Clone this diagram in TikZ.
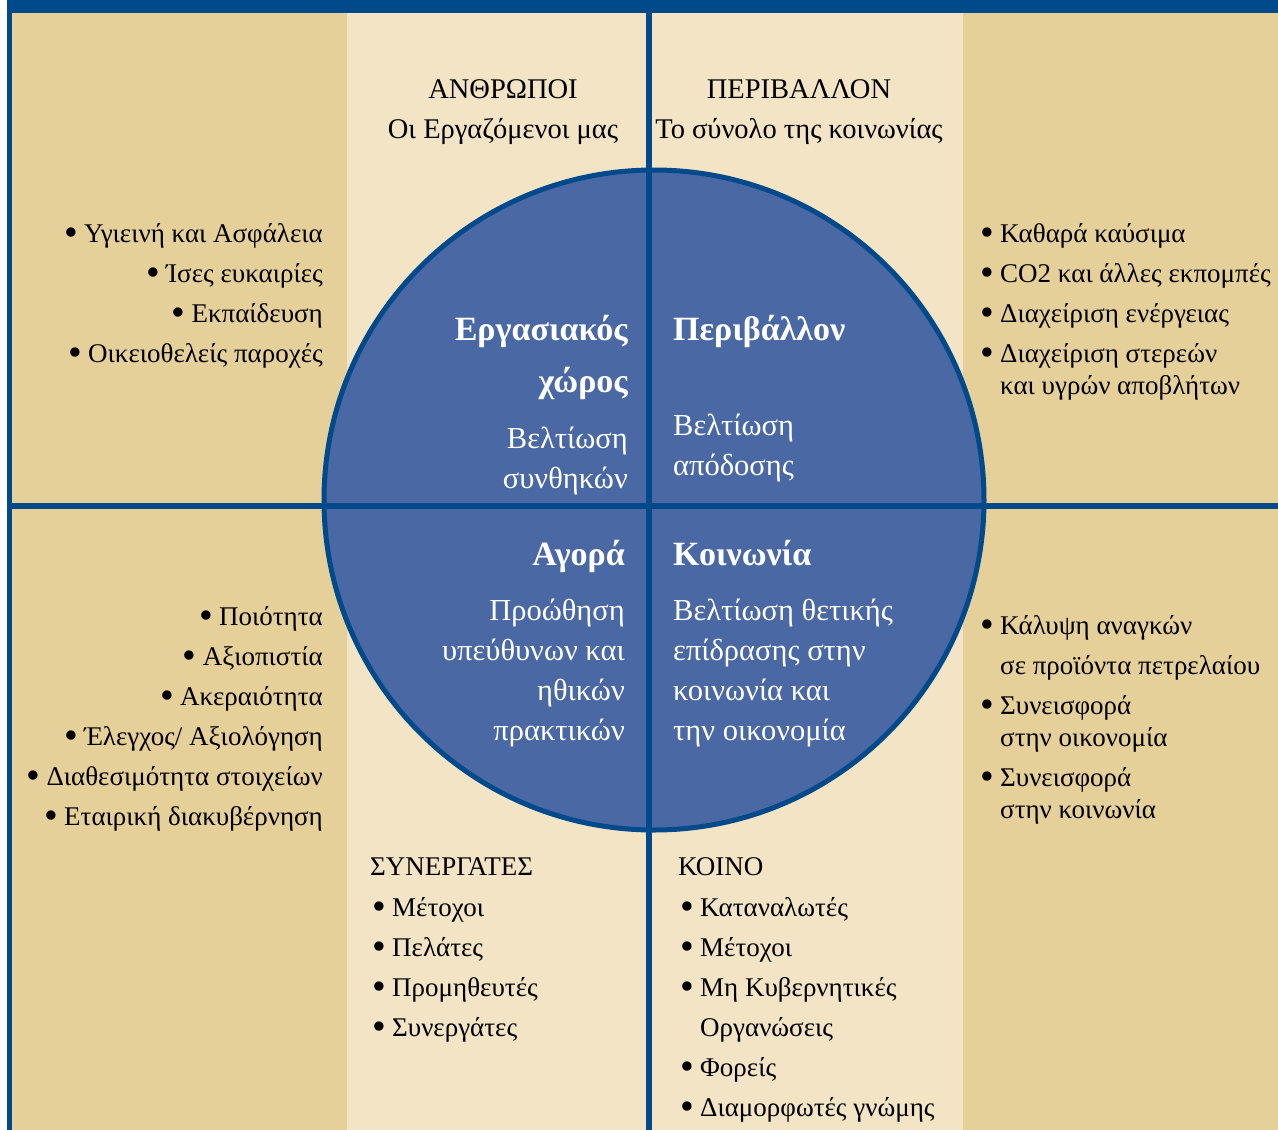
\documentclass[tikz,border=0pt]{standalone}
\usepackage{fontspec}
\usepackage{graphicx}
\setmainfont{Liberation Serif}
\definecolor{darkbeige}{HTML}{E6D09A}
\definecolor{lightbeige}{HTML}{F2E4C4}
\definecolor{frameblue}{HTML}{00498A}
\definecolor{circblue}{HTML}{4A68A3}
\newcommand{\bul}[1][20pt]{\makebox[#1][l]{\raisebox{-3pt}{\scalebox{1.45}{•}}}}
\begin{document}
\begin{tikzpicture}[x=1pt,y=-1pt]

    \tikzstyle{lst}=[inner sep=0pt, font=\fontsize{27}{32}\selectfont]
    \tikzstyle{head}=[inner sep=0pt, anchor=base, font=\fontsize{28.5}{32}\selectfont]
    \tikzstyle{ctitle}=[inner sep=0pt, text=white, font=\fontsize{34}{40}\selectfont\bfseries]
    \tikzstyle{ctext}=[inner sep=0pt, text=white, font=\fontsize{30.5}{32}\selectfont]
    \tikzstyle{sep}=[frameblue, line width=6pt]

    % background bands
    \useasboundingbox (0,0) rectangle (1278,1130);
    \fill[white] (0,0) rectangle (1278,1130);
    \fill[darkbeige] (12,13) rectangle (1278,1130);
    \fill[lightbeige] (347,13) rectangle (963,1130);
    \fill[frameblue] (7,0) rectangle (1278,13);
    \fill[frameblue] (7,0) rectangle (12,1130);

    % the wheel
    \node[circle, draw=frameblue, line width=5pt, fill=circblue, minimum size=660pt, inner sep=0pt] (wheel) at (654,500) {};

    % cross
    \coordinate (vtop) at (649,13);
    \coordinate (vbot) at (649,1130);
    \coordinate (hleft) at (12,506);
    \coordinate (hright) at (1278,506);
    \draw[sep] (vtop) -- (vbot);
    \draw[sep] (hleft) -- (hright);

    % headings
    \node[head] (anthr) at (503,98) {ΑΝΘΡΩΠΟΙ};
    \node[head] (anthrsub) at (503,138) {Οι Εργαζόμενοι μας};
    \node[head] (perib) at (799,98) {ΠΕΡΙΒΑΛΛΟΝ};
    \node[head] (peribsub) at (799,138) {Το σύνολο της κοινωνίας};

    % quarters of the wheel
    \node[ctitle, anchor=base east] (q1a) at (628,340) {Εργασιακός};
    \node[ctitle, anchor=base east] (q1b) at (628,392) {χώρος};
    \node[ctext, anchor=base east] (q1c) at (628,448) {Βελτίωση};
    \node[ctext, anchor=base east] (q1d) at (628,488) {συνθηκών};

    \node[ctitle, anchor=base west] (q2a) at (673,340) {Περιβάλλον};
    \node[ctext, anchor=base west] (q2b) at (673,435) {Βελτίωση};
    \node[ctext, anchor=base west] (q2c) at (673,475) {απόδοσης};

    \node[ctitle, anchor=base east] (q3a) at (625,565) {Αγορά};
    \foreach \t [count=\i] in {Προώθηση, υπεύθυνων και, ηθικών, πρακτικών} {
        \node[ctext, anchor=base east] (q3\i) at (625,580+40*\i) {\t};
    }

    \node[ctitle, anchor=base west] (q4a) at (673,565) {Κοινωνία};
    \foreach \t [count=\i] in {Βελτίωση θετικής, επίδρασης στην, κοινωνία και, την οικονομία} {
        \node[ctext, anchor=base west] (q4\i) at (673,580+40*\i) {\t};
    }

    % outer lists, left side
    \foreach \t [count=\i] in {Υγιεινή και Ασφάλεια, Ίσες ευκαιρίες, Εκπαίδευση, Οικειοθελείς παροχές} {
        \node[lst, anchor=base east] (ul\i) at (323,202+40*\i) {\bul\t};
    }
    \foreach \t [count=\i] in {Ποιότητα, Αξιοπιστία, Ακεραιότητα, {Έλεγχος/ Αξιολόγηση}, Διαθεσιμότητα στοιχείων, Εταιρική διακυβέρνηση} {
        \node[lst, anchor=base east] (ll\i) at (323,585+40*\i) {\bul\t};
    }

    % outer lists, right side
    \node[lst, anchor=base west] (ur1) at (980,242) {\bul Καθαρά καύσιμα};
    \node[lst, anchor=base west] (ur2) at (980,282) {\bul CO2 και άλλες εκπομπές};
    \node[lst, anchor=base west] (ur3) at (980,322) {\bul Διαχείριση ενέργειας};
    \node[lst, anchor=base west] (ur4) at (980,362) {\bul Διαχείριση στερεών};
    \node[lst, anchor=base west] (ur5) at (1000,394) {και υγρών αποβλήτων};

    \node[lst, anchor=base west] (lr1) at (980,634) {\bul Κάλυψη αναγκών};
    \node[lst, anchor=base west] (lr2) at (1000,674) {σε προϊόντα πετρελαίου};
    \node[lst, anchor=base west] (lr3) at (980,714) {\bul Συνεισφορά};
    \node[lst, anchor=base west] (lr4) at (1000,746) {στην οικονομία};
    \node[lst, anchor=base west] (lr5) at (980,786) {\bul Συνεισφορά};
    \node[lst, anchor=base west] (lr6) at (1000,818) {στην κοινωνία};

    % lower middle lists
    \node[lst, anchor=base west] (syn) at (370,875) {ΣΥΝΕΡΓΑΤΕΣ};
    \foreach \t [count=\i] in {Μέτοχοι, Πελάτες, Προμηθευτές, Συνεργάτες} {
        \node[lst, anchor=base west] (syn\i) at (372,876+40*\i) {\bul\t};
    }
    \node[lst, anchor=base west] (koino) at (678,875) {ΚΟΙΝΟ};
    \node[lst, anchor=base west] (koino1) at (680,916) {\bul Καταναλωτές};
    \node[lst, anchor=base west] (koino2) at (680,956) {\bul Μέτοχοι};
    \node[lst, anchor=base west] (koino3) at (680,996) {\bul Μη Κυβερνητικές};
    \node[lst, anchor=base west] (koino4) at (700,1036) {Οργανώσεις};
    \node[lst, anchor=base west] (koino5) at (680,1076) {\bul Φορείς};
    \node[lst, anchor=base west] (koino6) at (680,1116) {\bul Διαμορφωτές γνώμης};

\end{tikzpicture}
\end{document}
